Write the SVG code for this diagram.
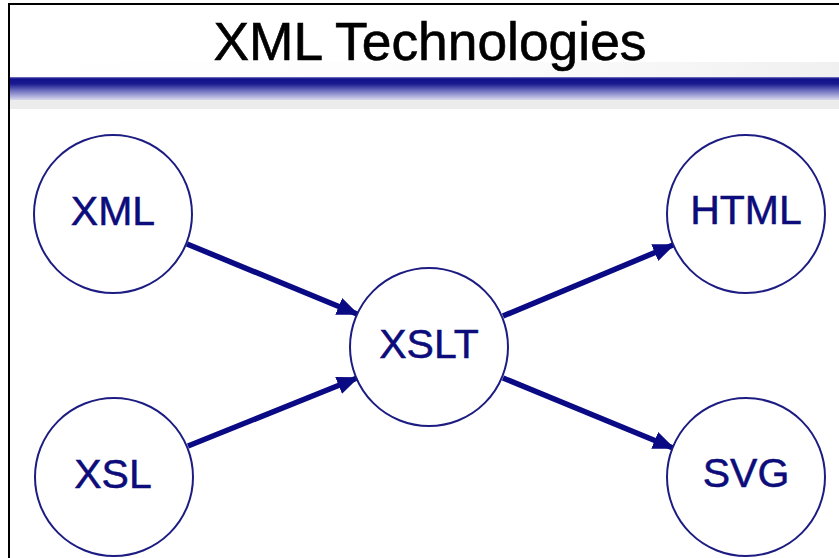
<svg xmlns="http://www.w3.org/2000/svg" width="839" height="558" viewBox="0 0 839 558">
<style>
.node circle{fill:#fff;stroke:#1c1c82;stroke-width:2}
.node text{font-family:"Liberation Sans",Arial,sans-serif;font-size:41px;fill:#0c0c7a;stroke:#0c0c7a;stroke-width:0.5;text-anchor:middle}
.title{font-family:"Liberation Sans",Arial,sans-serif;font-size:53px;fill:#000;stroke:#000;stroke-width:0.6;text-anchor:middle}
.conn line{stroke:#0a0a85;stroke-width:5.5;marker-end:url(#ah)}
</style>
<defs>
<linearGradient id="band" x1="0" y1="0" x2="0" y2="1">
<stop offset="0" stop-color="#8080c8"/>
<stop offset="0.08" stop-color="#10108a"/>
<stop offset="0.3" stop-color="#1a1a90"/>
<stop offset="0.6" stop-color="#7070c0"/>
<stop offset="1" stop-color="#d8d8ec"/>
</linearGradient>
<linearGradient id="top" x1="0" y1="0" x2="1" y2="0">
<stop offset="0" stop-color="#fff"/>
<stop offset="0.6" stop-color="#fcfcfc"/>
<stop offset="1" stop-color="#f0f0f0"/>
</linearGradient>
<marker id="ah" viewBox="0 0 10 10" refX="9" refY="5" markerWidth="4" markerHeight="3.3" orient="auto" markerUnits="strokeWidth" preserveAspectRatio="none">
<path d="M0,0 L10,5 L0,10 z" fill="#0a0a85"/>
</marker>
</defs>
<rect x="0" y="0" width="839" height="558" fill="#fff"/>
<rect x="9" y="62" width="830" height="15" fill="url(#top)"/>
<rect x="9" y="77" width="830" height="23" fill="url(#band)"/>
<rect x="9" y="100" width="830" height="9" fill="#ececec"/>
<line x1="8" y1="4" x2="839" y2="4" stroke="#000" stroke-width="2"/>
<line x1="9" y1="3" x2="9" y2="558" stroke="#000" stroke-width="2"/>
<text class="title" x="430" y="60" textLength="433" lengthAdjust="spacingAndGlyphs">XML Technologies</text>
<g id="connectors" class="conn">
<line x1="187" y1="244" x2="357" y2="314"/>
<line x1="188" y1="446" x2="357" y2="378"/>
<line x1="503" y1="316" x2="673" y2="245"/>
<line x1="503" y1="378" x2="673" y2="448"/>
</g>
<g id="node-xml" class="node"><circle cx="113" cy="214" r="79"/><text x="113" y="225">XML</text></g>
<g id="node-xsl" class="node"><circle cx="114" cy="477" r="79"/><text x="113" y="488">XSL</text></g>
<g id="node-xslt" class="node"><circle cx="429" cy="347" r="79"/><text x="429" y="358">XSLT</text></g>
<g id="node-html" class="node"><circle cx="746" cy="214" r="79"/><text x="746" y="224">HTML</text></g>
<g id="node-svg" class="node"><circle cx="746" cy="477" r="79"/><text x="746" y="487">SVG</text></g>
</svg>
